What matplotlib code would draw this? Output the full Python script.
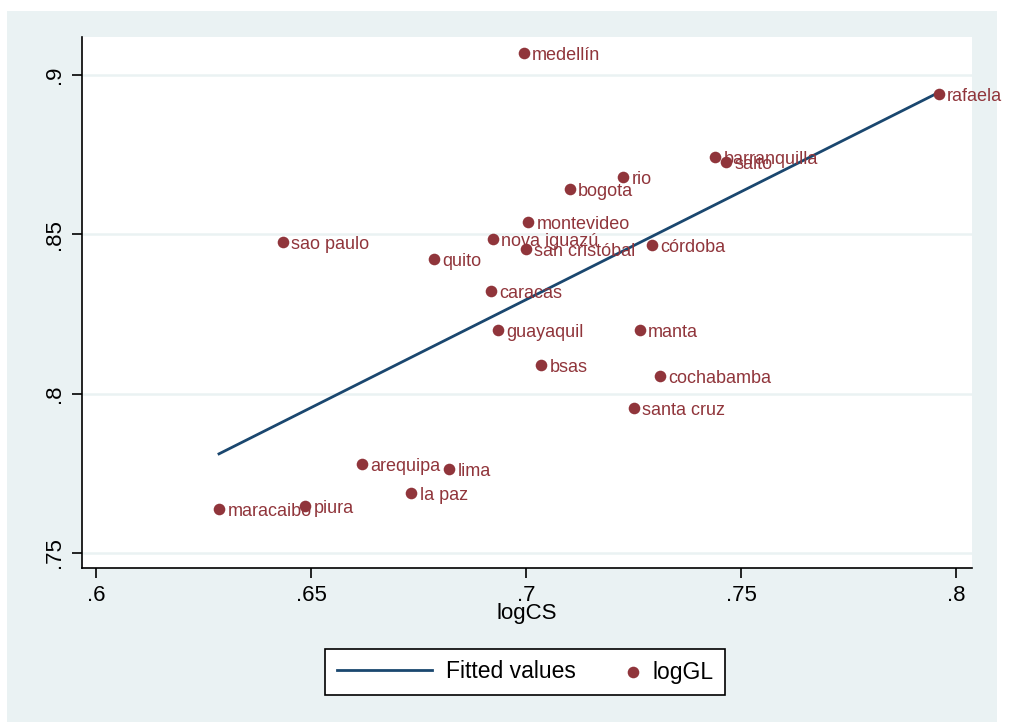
import numpy as np
import matplotlib.pyplot as plt
from matplotlib.patches import Rectangle
from matplotlib.legend_handler import HandlerPathCollection

plt.rcParams['font.family'] = ['Liberation Sans', 'DejaVu Sans']

# city-level values
cities = ['medellín', 'rafaela', 'barranquilla', 'salto', 'rio', 'bogota',
          'montevideo', 'nova iguazú', 'san cristóbal', 'córdoba', 'sao paulo',
          'quito', 'caracas', 'guayaquil', 'manta', 'bsas', 'cochabamba',
          'santa cruz', 'arequipa', 'lima', 'la paz', 'piura', 'maracaibo']
logCS = [0.6995, 0.7960, 0.7440, 0.7465, 0.7226, 0.7102,
         0.7005, 0.6923, 0.7000, 0.7293, 0.6435,
         0.6786, 0.6919, 0.6935, 0.7265, 0.7035, 0.7312,
         0.7251, 0.6619, 0.6821, 0.6733, 0.6486, 0.6286]
logGL = [0.9069, 0.8940, 0.8743, 0.8727, 0.8680, 0.8642,
         0.8539, 0.8485, 0.8454, 0.8466, 0.8476,
         0.8422, 0.8322, 0.8200, 0.8200, 0.8090, 0.8055,
         0.7955, 0.7779, 0.7763, 0.7688, 0.7647, 0.7638]

xticks = [0.6, 0.65, 0.7, 0.75, 0.8]
xtick_labels = ['.6', '.65', '.7', '.75', '.8']
yticks = [0.75, 0.8, 0.85, 0.9]
ytick_labels = ['.75', '.8', '.85', '.9']

navy = '#1a476f'
maroon = '#90353b'
bluish = '#eaf2f3'


class MarkerRight(HandlerPathCollection):
    # put the legend marker near the right end of its handle box
    def get_xdata(self, legend, xdescent, ydescent, width, height, fontsize):
        xd = [-xdescent, -xdescent + width]
        return xd, [-xdescent + width - 0.25 * fontsize]


x = np.array(logCS)
y = np.array(logGL)
slope, intercept = np.polyfit(x, y, 1)
xfit = np.array([x.min(), x.max()])
yfit = intercept + slope * xfit

fig = plt.figure(figsize=(10.10, 7.24), dpi=100, facecolor='white')
# graph region background
fig.patches.append(Rectangle((7 / 1010, 2 / 724), 990 / 1010, 711 / 724,
                             transform=fig.transFigure, facecolor=bluish,
                             edgecolor='none', zorder=-5))

ax = fig.add_axes([82 / 1010, 156 / 724, 890 / 1010, 531 / 724])
ax.set_facecolor('white')

line, = ax.plot(xfit, yfit, color=navy, lw=2, zorder=3)
pts = ax.scatter(x, y, s=70, color=maroon, zorder=4, linewidths=0)
for cx, cy, name in zip(x, y, cities):
    ax.annotate(name, (cx, cy), xytext=(6, -2), textcoords='offset points',
                va='center', ha='left', fontsize=13, color=maroon, zorder=5)

ax.set_xlim(0.59674, 0.80372)
ax.set_ylim(0.74529, 0.91192)
ax.set_xticks(xticks)
ax.set_xticklabels(xtick_labels, fontsize=16)
ax.set_yticks(yticks)
ax.set_yticklabels(ytick_labels, fontsize=16, rotation=90, va='center')
ax.tick_params(direction='out', length=7, width=1.2, color='black', pad=5)
ax.yaxis.grid(True, color=bluish, lw=1.8)
ax.set_axisbelow(True)

for side in ['top', 'right']:
    ax.spines[side].set_visible(False)
for side in ['left', 'bottom']:
    ax.spines[side].set_linewidth(1.2)

ax.set_xlabel('logCS', fontsize=16, labelpad=-2)

leg = fig.legend([line, pts], ['Fitted values', 'logGL'], ncol=2,
                 loc='center', bbox_to_anchor=(525 / 1010, 1 - 672 / 724),
                 fontsize=16.5, frameon=True, fancybox=False, edgecolor='black',
                 framealpha=1, handlelength=4.15, columnspacing=-1.4,
                 handletextpad=0.6, borderpad=0.5, borderaxespad=0,
                 scatterpoints=1, handler_map={pts: MarkerRight()})
leg.get_frame().set_linewidth(1.2)
leg.set_zorder(10)

fig.savefig('out.png', dpi=100, facecolor='white')
